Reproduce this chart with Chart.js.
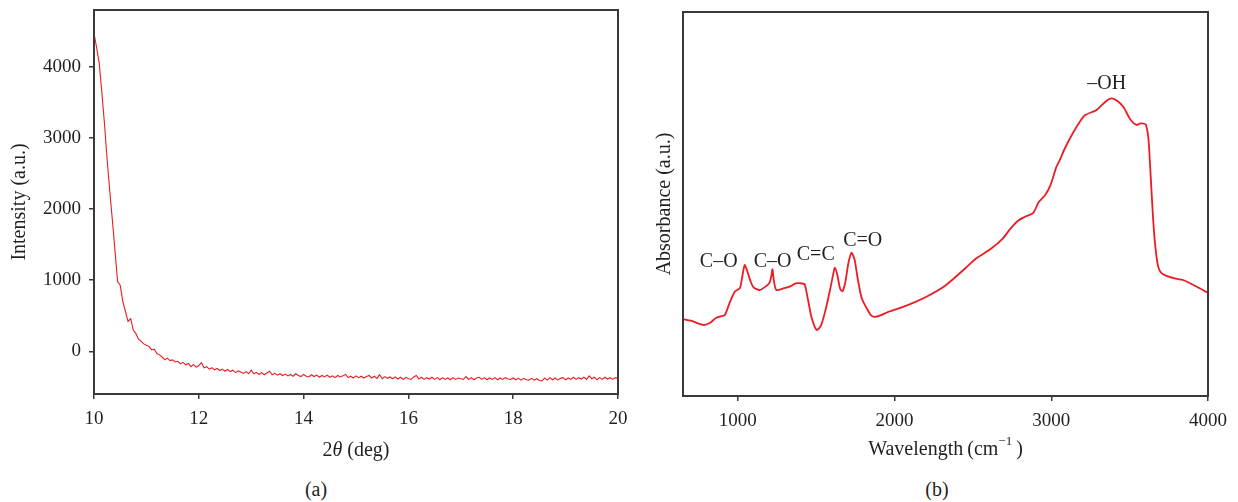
<!DOCTYPE html>
<html>
<head>
<meta charset="utf-8">
<script src="https://cdn.jsdelivr.net/npm/chart.js@4/dist/chart.umd.min.js"></script>
<style>
  body { margin: 0; background: #fff; width: 1238px; height: 502px; position: relative; overflow: hidden; }
  canvas { position: absolute; top: 0; }
  #ca { left: 0; }
  #cb { left: 630px; }
  .cap { position: absolute; top: 476px; font: 20px "Liberation Serif", serif; color: #231f20; transform: translateX(-50%); line-height: 26px; }
</style>
</head>
<body>
<canvas id="ca" width="630" height="476"></canvas>
<canvas id="cb" width="608" height="476"></canvas>
<div class="cap" style="left:316px">(a)</div>
<div class="cap" style="left:937px">(b)</div>
<script>
// ---- XRD pattern: 2θ from 10° to 20°, sampled every 0.05° ----
const xrdStart = 10;
const xrdStep = 0.05;
const xrdIntensity = [
  4470, 4270, 4050, 3640, 3200, 2700, 2260, 1850, 1420, 980,
  930, 700, 560, 420, 460, 300, 250, 170, 140, 105,
  85, 70, 20, 30, -30, -50, -80, -120, -95, -130,
  -120, -150, -140, -175, -155, -190, -170, -215, -185, -225,
  -200, -160, -230, -215, -250, -230, -260, -240, -270, -250,
  -280, -255, -285, -265, -300, -275, -290, -310, -285, -315,
  -265, -315, -295, -325, -300, -330, -305, -280, -330, -310,
  -335, -315, -340, -320, -345, -325, -350, -315, -340, -355,
  -325, -350, -360, -330, -355, -335, -365, -340, -360, -335,
  -365, -345, -370, -340, -360, -345, -325, -370, -350, -375,
  -345, -370, -350, -375, -355, -340, -375, -350, -380, -330,
  -385, -355, -380, -360, -385, -360, -390, -365, -395, -365,
  -385, -395, -360, -340, -390, -365, -395, -370, -390, -365,
  -395, -370, -400, -370, -395, -375, -400, -370, -395, -375,
  -385, -395, -355, -395, -370, -400, -375, -365, -395, -370,
  -400, -375, -395, -370, -400, -375, -395, -370, -390, -395,
  -375, -400, -380, -405, -380, -400, -405, -380, -405, -385,
  -410, -415, -375, -405, -370, -400, -375, -405, -380, -370,
  -400, -375, -395, -365, -395, -370, -390, -365, -395, -345,
  -385, -365, -400, -370, -395, -365, -390, -370, -395, -370,
  -380
];
const xrdTicksX = [10, 12, 14, 16, 18, 20];
const xrdTicksY = [0, 1000, 2000, 3000, 4000];

// ---- FTIR spectrum ----
const wavenumber = [
  650, 700, 778, 820, 860, 896, 917, 950, 981, 1013,
  1030, 1044, 1060, 1080, 1100, 1140, 1180, 1203, 1215, 1221,
  1230, 1246, 1290, 1331, 1370, 1410, 1427, 1448, 1470, 1502,
  1530, 1560, 1590, 1610, 1619, 1635, 1652, 1668, 1685, 1705,
  1725, 1745, 1765, 1790, 1820, 1850, 1874, 1910, 1960, 2080,
  2200, 2325, 2450, 2520, 2617, 2690, 2740, 2790, 2840, 2885,
  2920, 2960, 2995, 3032, 3055, 3081, 3130, 3182, 3215, 3289,
  3353, 3386, 3422, 3459, 3508, 3544, 3570, 3593, 3605, 3620,
  3632, 3650, 3665, 3682, 3703, 3739, 3788, 3841, 3932, 4000
];
const absorbance = [
  20.0, 19.6, 18.5, 19.0, 20.3, 20.8, 21.1, 24.5, 27.2, 28.1,
  31.5, 34.1, 32.5, 30.0, 28.3, 27.6, 28.6, 29.6, 31.5, 33.0,
  30.0, 27.6, 28.0, 28.5, 29.3, 29.3, 29.0, 25.0, 20.5, 17.2,
  18.3, 22.5, 28.0, 32.0, 33.4, 31.5, 28.0, 27.3, 29.5, 34.5,
  37.3, 35.5, 30.5, 25.5, 23.0, 21.0, 20.6, 21.0, 21.9, 23.6,
  25.8, 28.8, 33.2, 35.8, 38.4, 41.0, 43.6, 45.7, 46.8, 47.7,
  50.5, 52.3, 54.9, 59.6, 61.5, 64.0, 67.9, 71.4, 73.1, 74.5,
  76.9, 77.5, 76.8, 75.3, 71.8, 70.6, 71.0, 70.9, 70.6, 67.0,
  58.9, 46.0, 38.5, 33.7, 32.0, 31.2, 30.6, 30.2, 28.4, 26.8
];
const ftirTicksX = [1000, 2000, 3000, 4000];
// band assignments, placed in data units of the spectrum
const bandLabels = [
  { text: 'C\u2013O', x: 878, y: 34.9 },
  { text: 'C\u2013O', x: 1222, y: 34.9 },
  { text: 'C=C', x: 1497, y: 36.7 },
  { text: 'C=O', x: 1797, y: 40.4 },
  { text: '\u2013OH', x: 3354, y: 81.3 }
];

const SERIF = '"Liberation Serif", "Times New Roman", serif';
const INK = '#231f20';
const FRAME = '#3a3a3a';
const RED = '#ed1c24';

// draws a run of text pieces [{t, font, dy}] centred on (cx, cy)
function drawRuns(ctx, runs, cx, cy) {
  let total = 0;
  runs.forEach(r => { ctx.font = r.font; r.w = ctx.measureText(r.t).width; total += r.w; });
  let x = cx - total / 2;
  ctx.textAlign = 'left';
  ctx.textBaseline = 'middle';
  runs.forEach(r => { ctx.font = r.font; ctx.fillText(r.t, x, cy + (r.dy || 0)); x += r.w; });
}

function framePlugin(opts) {
  return {
    id: 'frame',
    afterDraw(chart) {
      const { ctx, chartArea: a } = chart;
      ctx.save();
      ctx.strokeStyle = FRAME;
      ctx.lineWidth = 2;
      ctx.strokeRect(a.left, a.top, a.right - a.left, a.bottom - a.top);
      ctx.fillStyle = INK;
      // y title
      ctx.save();
      ctx.translate(opts.yTitleX, (a.top + a.bottom) / 2);
      ctx.rotate(-Math.PI / 2);
      ctx.font = '20px ' + SERIF;
      ctx.textAlign = 'center';
      ctx.textBaseline = 'middle';
      ctx.fillText(opts.yTitle, 0, 0);
      ctx.restore();
      // x title
      drawRuns(ctx, opts.xTitleRuns, (a.left + a.right) / 2, opts.xTitleY);
      if (opts.extra) opts.extra(chart);
      ctx.restore();
    }
  };
}

const tickFont = { family: SERIF, size: 19 };
const plainNumber = v => String(v);
// fixed axis sizes so the plot frames sit where they should
const fixHeight = h => s => { s.height = h; s.paddingLeft = 0; s.paddingRight = 0; };
const fixWidth = w => s => { s.width = w; s.paddingTop = 0; s.paddingBottom = 0; };

// ---- (a) XRD ----
const xrdPoints = xrdIntensity.map((v, i) => ({ x: +(xrdStart + i * xrdStep).toFixed(2), y: v }));

new Chart(document.getElementById('ca'), {
  type: 'line',
  data: { datasets: [{ data: xrdPoints, borderColor: RED, borderWidth: 1.1, pointRadius: 0, tension: 0, fill: false }] },
  options: {
    responsive: false,
    animation: false,
    events: [],
    layout: { padding: { top: 10, right: 12, left: 0, bottom: 0 } },
    plugins: { legend: { display: false }, tooltip: { enabled: false } },
    scales: {
      x: {
        type: 'linear', min: 10, max: 20,
        afterBuildTicks: s => { s.ticks = xrdTicksX.map(v => ({ value: v })); },
        afterFit: fixHeight(82),
        border: { display: false },
        grid: { drawOnChartArea: false, drawTicks: true, tickLength: 5, color: FRAME, lineWidth: 1.5 },
        ticks: { font: tickFont, color: INK, padding: 9, maxRotation: 0, callback: plainNumber }
      },
      y: {
        type: 'linear', min: -600, max: 4800,
        afterBuildTicks: s => { s.ticks = xrdTicksY.map(v => ({ value: v })); },
        afterFit: fixWidth(94),
        border: { display: false },
        grid: { drawOnChartArea: false, drawTicks: true, tickLength: 5, color: FRAME, lineWidth: 1.5 },
        ticks: { font: tickFont, color: INK, padding: 8, callback: plainNumber }
      }
    }
  },
  plugins: [framePlugin({
    yTitle: 'Intensity (a.u.)', yTitleX: 20, xTitleY: 451,
    xTitleRuns: [
      { t: '2', font: '20px ' + SERIF },
      { t: '\u03b8', font: 'italic 20px ' + SERIF },
      { t: ' (deg)', font: '20px ' + SERIF }
    ]
  })]
});

// ---- (b) FTIR ----
const ftirPoints = wavenumber.map((w, i) => ({ x: w, y: absorbance[i] }));

new Chart(document.getElementById('cb'), {
  type: 'line',
  data: { datasets: [{ data: ftirPoints, borderColor: RED, borderWidth: 1.8, pointRadius: 0, tension: 0.25, fill: false }] },
  options: {
    responsive: false,
    animation: false,
    events: [],
    layout: { padding: { top: 12, right: 30, left: 0, bottom: 0 } },
    plugins: { legend: { display: false }, tooltip: { enabled: false } },
    scales: {
      x: {
        type: 'linear', min: 650, max: 4000,
        afterBuildTicks: s => { s.ticks = ftirTicksX.map(v => ({ value: v })); },
        afterFit: fixHeight(80),
        border: { display: false },
        grid: { drawOnChartArea: false, drawTicks: true, tickLength: 5, color: FRAME, lineWidth: 1.5 },
        ticks: { font: tickFont, color: INK, padding: 9, maxRotation: 0, callback: plainNumber }
      },
      y: {
        type: 'linear', min: 0, max: 100,
        afterFit: fixWidth(53),
        border: { display: false },
        grid: { display: false },
        ticks: { display: false }
      }
    }
  },
  plugins: [framePlugin({
    yTitle: 'Absorbance (a.u.)', yTitleX: 35, xTitleY: 450,
    xTitleRuns: [
      { t: 'Wavelength\u2009(cm', font: '20px ' + SERIF },
      { t: '\u22121', font: '13px ' + SERIF, dy: -8 },
      { t: '\u2009)', font: '20px ' + SERIF }
    ],
    extra(chart) {
      const { ctx, scales } = chart;
      ctx.font = '20px ' + SERIF;
      ctx.textAlign = 'center';
      ctx.textBaseline = 'middle';
      bandLabels.forEach(l => ctx.fillText(l.text, scales.x.getPixelForValue(l.x), scales.y.getPixelForValue(l.y)));
    }
  })]
});
</script>
</body>
</html>
